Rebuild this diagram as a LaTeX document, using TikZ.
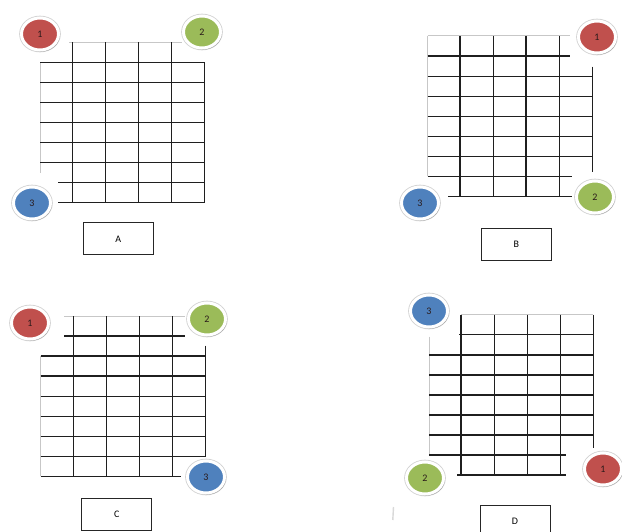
\documentclass[tikz,border=0pt]{standalone}
\usepackage{fontspec}
\setmainfont{Carlito}
\usetikzlibrary{shapes.geometric,shadows}
\definecolor{ballred}{HTML}{C0504D}
\definecolor{ballgreen}{HTML}{9BBB59}
\definecolor{ballblue}{HTML}{4F81BD}
\definecolor{numtext}{HTML}{2A1A1A}
\tikzset{
  gline/.style={line width=1.2pt, black!88},
  fline/.style={line width=1pt, black!22},
  ball/.style={ellipse, minimum width=37pt, minimum height=32pt, inner sep=0pt,
    draw=white, line width=3pt, font=\normalsize, text=numtext,
    preaction={draw=black!18, line width=4.6pt},
    drop shadow={shadow xshift=1.2pt, shadow yshift=-1.6pt, fill=black, opacity=0.25}},
  redball/.style={ball, fill=ballred},
  greenball/.style={ball, fill=ballgreen},
  blueball/.style={ball, fill=ballblue},
  labelbox/.style={draw=black!85, line width=0.8pt, minimum width=70pt,
    minimum height=32pt, inner sep=0pt, font=\normalsize},
}
\begin{document}
\begin{tikzpicture}[x=1pt,y=-1pt]
\useasboundingbox (0,0) rectangle (622,532);
\clip (0,0) rectangle (622,532);
\fill[white] (0,0) rectangle (622,532);

% ---------------- Panel A ----------------
\draw[fline] (69,42.3) -- (182,42.3);
\draw[fline] (40,62.3) -- (40,173);
\foreach \x in {72.3,105.7,138.7,171.7} \draw[gline] (\x,42.3) -- (\x,202.7);
\draw[gline] (204.3,62.3) -- (204.3,202.7);
\foreach \y in {62.3,82.3,102.7,122.7,142.7,162.7} \draw[gline] (40,\y) -- (204.3,\y);
\foreach \y in {182.7,202.7} \draw[gline] (58,\y) -- (204.3,\y);
\node[redball] (a1) at (40,34) {1};
\node[greenball] (a2) at (202,32) {2};
\node[blueball] (a3) at (32,203) {3};
\node[labelbox] (boxA) at (118.3,238.8) {A};

% ---------------- Panel B ----------------
\draw[fline] (427.7,36) -- (570,36);
\draw[fline] (427.7,36) -- (427.7,176.3);
\foreach \x in {460,493.3,526,559.3} \draw[gline] (\x,36) -- (\x,196.3);
\draw[gline] (592.3,66.7) -- (592.3,171.7);
\draw[gline] (427.7,56) -- (570,56);
\foreach \y in {76.3,96.3,116.3,136.3,156.3} \draw[gline] (427.7,\y) -- (592.3,\y);
\draw[gline] (427.7,176.3) -- (572,176.3);
\draw[gline] (448.3,196.3) -- (572,196.3);
\node[redball] (b1) at (597,37) {1};
\node[greenball] (b2) at (595,197) {2};
\node[blueball] (b3) at (420,203) {3};
\node[labelbox] (boxB) at (516.3,244.2) {B};

% ---------------- Panel C ----------------
\draw[fline] (64,316) -- (185,316);
\draw[fline] (40.7,356) -- (40.7,476.3);
\foreach \x in {73.3,106.7,139.7,172.7} \draw[gline] (\x,316) -- (\x,476.3);
\draw[gline] (205.7,345.7) -- (205.7,456.3);
\draw[gline] (64,336) -- (185,336);
\foreach \y in {356,376,396.3,416.3,436.3,456.3} \draw[gline] (40.7,\y) -- (205.7,\y);
\draw[gline] (40.7,476.3) -- (181,476.3);
\node[redball] (c1) at (30,323) {1};
\node[greenball] (c2) at (207,319) {2};
\node[blueball] (c3) at (206,477) {3};
\node[labelbox] (boxC) at (116.7,514.2) {C};

% ---------------- Panel D ----------------
\draw[fline] (461,314.7) -- (593.3,314.7);
\draw[fline] (429,336.7) -- (429,455);
\foreach \x in {461,494.3,527.3,560.3} \draw[gline] (\x,314.7) -- (\x,475);
\draw[gline] (593.3,314.7) -- (593.3,448.3);
\draw[gline] (459,334.7) -- (593.3,334.7);
\foreach \y in {355,375,395,415,435} \draw[gline] (429,\y) -- (593.3,\y);
\draw[gline] (429,455) -- (565.7,455);
\draw[gline] (457.3,475) -- (565.7,475);
\node[blueball] (d3) at (429,311) {3};
\node[greenball] (d2) at (425,478) {2};
\node[redball] (d1) at (603,469) {1};
\node[labelbox] (boxD) at (515,521) {D};
\draw[line width=1.4pt, black!15] (393.5,507) -- (392.8,520);
\end{tikzpicture}
\end{document}
